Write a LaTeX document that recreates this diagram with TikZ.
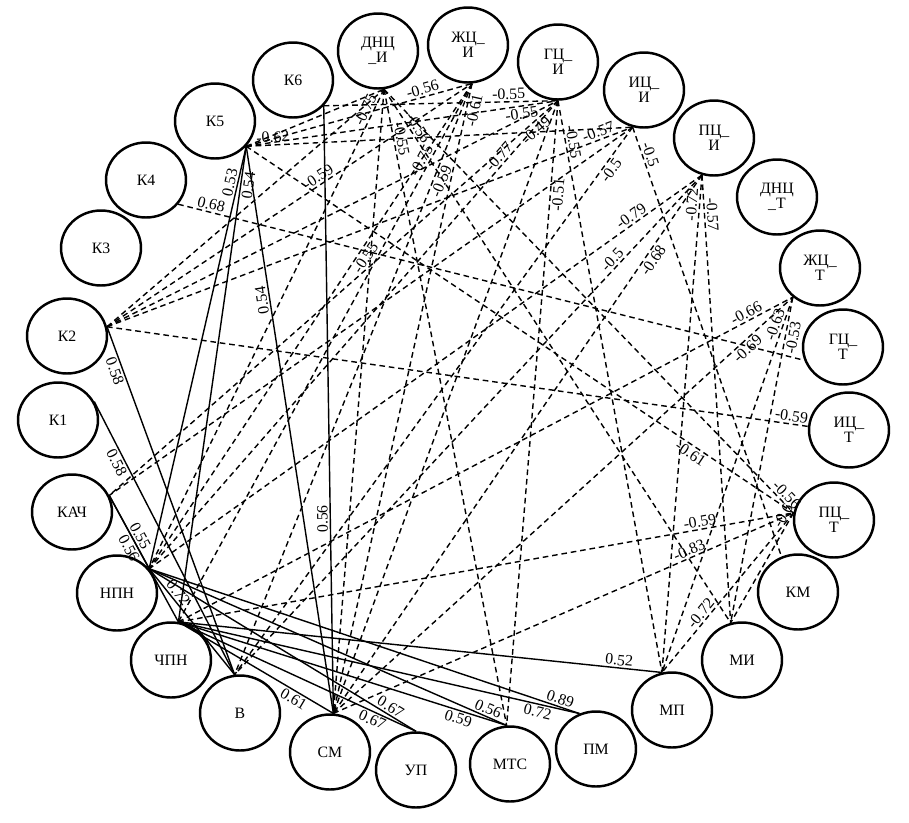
\documentclass[tikz,border=0pt]{standalone}
\usepackage{fontspec}
\setmainfont{Liberation Serif}
\usetikzlibrary{shapes.geometric}
\tikzset{
  var/.style={draw, ellipse, line width=1.4pt, minimum width=1.6cm, minimum height=1.5cm, inner sep=0pt, align=center, font=\fontsize{9}{8.5}\selectfont},
  poscor/.style={line width=0.8pt},
  negcor/.style={line width=0.8pt, dash pattern=on 3.2pt off 2.2pt},
  wt/.style={font=\fontsize{9}{9}\selectfont, sloped, inner sep=1pt},
  upread/.style={above, allow upside down}
}
\begin{document}
\begin{tikzpicture}[x=0.02cm, y=-0.02cm, line join=round]
\useasboundingbox (0,0) rectangle (909,822);
% variables on the ring
\node[var] (k1) at (58,420) {К1};
\node[var] (k2) at (67,336) {К2};
\node[var] (k3) at (101,248) {К3};
\node[var] (k4) at (146,180) {К4};
\node[var] (k5) at (215,121) {К5};
\node[var] (k6) at (293,80) {К6};
\node[var] (dnci) at (378,51) {ДНЦ\\\_И};
\node[var] (zhci) at (468,45) {ЖЦ\_\\И};
\node[var] (gci) at (558,62) {ГЦ\_\\И};
\node[var] (ici) at (644,90) {ИЦ\_\\И};
\node[var] (pci) at (714,138) {ПЦ\_\\И};
\node[var] (dnct) at (777,197) {ДНЦ\\\_Т};
\node[var] (zhct) at (820,268) {ЖЦ\_\\Т};
\node[var] (gct) at (843,347) {ГЦ\_\\Т};
\node[var] (ict) at (849,430) {ИЦ\_\\Т};
\node[var] (pct) at (834,520) {ПЦ\_\\Т};
\node[var] (km) at (798,592) {КМ};
\node[var] (mi) at (742,660) {МИ};
\node[var] (mp) at (672,710) {МП};
\node[var] (pm) at (596,749) {ПМ};
\node[var] (mts) at (510,764) {МТС};
\node[var] (up) at (416,770) {УП};
\node[var] (sm) at (330,752) {СМ};
\node[var] (v) at (240,713) {В};
\node[var] (chpn) at (171,660) {ЧПН};
\node[var] (npn) at (117,593) {НПН};
\node[var] (kach) at (72,512) {КАЧ};
% ports where the links meet a variable
\foreach \n/\a in {k1/27,k2/13,k4/-37,k5/-39,k6/-40,dnci/-81,zhci/-84,gci/-90,ici/-107,pci/-108,zhct/-133,gct/-161,ict/175,pct/170,km/115,mi/107,mp/105,pm/115,mts/95,up/90,sm/85,v/98,chpn/79,npn/37,kach/24}
  \coordinate (p\n) at (\n.\a);
% positive links
\foreach \a/\b/\w/\p/\s in {k2/v/0.58/.12/below, k1/v/0.58/.21/below, k5/npn/0.53/.09/above,
  k5/chpn/0.54/.08/below, sm/k5/0.54/.73/upread, sm/k6/0.56/.32/upread, kach/npn/0.56/.67/below,
  kach/chpn/0.55/.35/above, npn/v/0.72/.27/above, chpn/sm/0.61/.77/below, npn/up/0.67/.89/above,
  chpn/up/0.67/.83/below, npn/mts/0.56/.94/above, chpn/mts/0.59/.86/below, npn/pm/0.89/.95/above,
  chpn/pm/0.72/.9/below, chpn/mp/0.52/.91/above}
  \draw[poscor] (p\a) -- node[wt,pos=\p,\s]{\w} (p\b);
% negative links
\foreach \a/\b/\w/\p/\s in {k4/gct/0.68/.05/above, k2/ict/-0.59/.975/above, k2/dnci//.5/above,
  k2/zhci/-0.59/.59/above, k2/gci//.5/above, k2/ici/-0.57/.94/above, k5/dnci//.5/above,
  k5/zhci/-0.56/.79/above, k5/gci/-0.55/.88/below, k5/ici/-0.62/.07/above, k5/pct/-0.61/.82/below,
  k6/gci/-0.55/.79/above, dnci/npn/-0.75/.05/above, dnci/sm//.5/above, dnci/mts/-0.55/.08/above,
  dnci/mi/-0.56/.08/above, dnci/pct/-0.56/.97/above, zhci/chpn/-0.75/.15/above,
  zhci/v/-0.59/.16/below, zhci/npn/-0.55/.35/below, zhci/sm/-0.61/.04/below,
  gci/npn/-0.77/.13/above, gci/kach/-0.49/.06/below, gci/mp/-0.55/.075/above,
  gci/mts/-0.51/.15/below, gci/sm//.5/above, ici/kach//.5/above, ici/v/-0.5/.07/below,
  ici/km/-0.5/.07/above, pci/npn/-0.79/.12/above, pci/v/-0.5/.18/above, pci/sm/-0.68/.15/below,
  pci/mp/-0.72/.06/above, pci/mi/-0.57/.09/above, chpn/zhct/-0.66/.93/above,
  sm/zhct/-0.69/.89/below, zhct/mp/-0.63/.08/above, zhct/mi/-0.53/.12/below,
  chpn/pct/-0.59/.85/above, sm/pct/-0.83/.78/above, pct/mp/-0.72/.66/above, pct/mi/-0.6/.06/above}
  \draw[negcor] (p\a) -- node[wt,pos=\p,\s]{\w} (p\b);
\end{tikzpicture}
\end{document}
